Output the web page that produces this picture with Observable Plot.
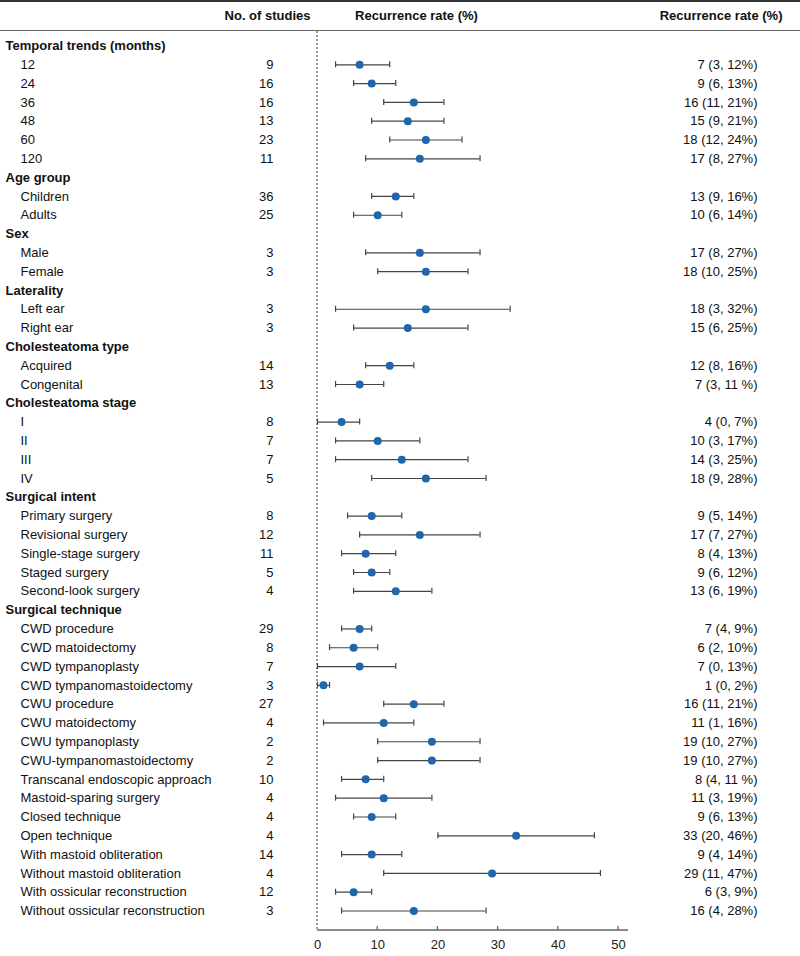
<!DOCTYPE html>
<html>
<head>
<meta charset="utf-8">
<script src="https://cdn.jsdelivr.net/npm/d3@7"></script>
<script src="https://cdn.jsdelivr.net/npm/@observablehq/plot@0.6"></script>
<style>
  html, body { margin: 0; padding: 0; background: #fff; }
  #chart svg { display: block; }
</style>
</head>
<body>
<div id="chart"></div>
<script>
// ---- Data ----
const rowLabels = [
  "Temporal trends (months)", "12", "24", "36", "48", "60", "120",
  "Age group", "Children", "Adults",
  "Sex", "Male", "Female",
  "Laterality", "Left ear", "Right ear",
  "Cholesteatoma type", "Acquired", "Congenital",
  "Cholesteatoma stage", "I", "II", "III", "IV",
  "Surgical intent", "Primary surgery", "Revisional surgery", "Single-stage surgery", "Staged surgery", "Second-look surgery",
  "Surgical technique", "CWD procedure", "CWD matoidectomy", "CWD tympanoplasty", "CWD tympanomastoidectomy",
  "CWU procedure", "CWU matoidectomy", "CWU tympanoplasty", "CWU-tympanomastoidectomy",
  "Transcanal endoscopic approach", "Mastoid-sparing surgery", "Closed technique", "Open technique",
  "With mastoid obliteration", "Without mastoid obliteration", "With ossicular reconstruction", "Without ossicular reconstruction"
];
const studies = [null, 9, 16, 16, 13, 23, 11, null, 36, 25, null, 3, 3, null, 3, 3, null, 14, 13,
  null, 8, 7, 7, 5, null, 8, 12, 11, 5, 4,
  null, 29, 8, 7, 3, 27, 4, 2, 2, 10, 4, 4, 4, 14, 4, 12, 3];
const estimate = [null, 7, 9, 16, 15, 18, 17, null, 13, 10, null, 17, 18, null, 18, 15, null, 12, 7,
  null, 4, 10, 14, 18, null, 9, 17, 8, 9, 13,
  null, 7, 6, 7, 1, 16, 11, 19, 19, 8, 11, 9, 33, 9, 29, 6, 16];
const lower = [null, 3, 6, 11, 9, 12, 8, null, 9, 6, null, 8, 10, null, 3, 6, null, 8, 3,
  null, 0, 3, 3, 9, null, 5, 7, 4, 6, 6,
  null, 4, 2, 0, 0, 11, 1, 10, 10, 4, 3, 6, 20, 4, 11, 3, 4];
const upper = [null, 12, 13, 21, 21, 24, 27, null, 16, 14, null, 27, 25, null, 32, 25, null, 16, 11,
  null, 7, 17, 25, 28, null, 14, 27, 13, 12, 19,
  null, 9, 10, 13, 2, 21, 16, 27, 27, 11, 19, 13, 46, 14, 47, 9, 28];
const ciLabels = [null, "7 (3, 12%)", "9 (6, 13%)", "16 (11, 21%)", "15 (9, 21%)", "18 (12, 24%)", "17 (8, 27%)",
  null, "13 (9, 16%)", "10 (6, 14%)",
  null, "17 (8, 27%)", "18 (10, 25%)",
  null, "18 (3, 32%)", "15 (6, 25%)",
  null, "12 (8, 16%)", "7 (3, 11 %)",
  null, "4 (0, 7%)", "10 (3, 17%)", "14 (3, 25%)", "18 (9, 28%)",
  null, "9 (5, 14%)", "17 (7, 27%)", "8 (4, 13%)", "9 (6, 12%)", "13 (6, 19%)",
  null, "7 (4, 9%)", "6 (2, 10%)", "7 (0, 13%)", "1 (0, 2%)", "16 (11, 21%)", "11 (1, 16%)", "19 (10, 27%)", "19 (10, 27%)",
  "8 (4, 11 %)", "11 (3, 19%)", "9 (6, 13%)", "33 (20, 46%)", "9 (4, 14%)", "29 (11, 47%)", "6 (3, 9%)", "16 (4, 28%)"];
const headerTexts = ["No. of studies", "Recurrence rate (%)", "Recurrence rate (%)"];
const xTicks = [0, 10, 20, 30, 40, 50];

// ---- Build table ----
const rows = rowLabels.map((label, i) => ({
  i, label, header: studies[i] == null,
  n: studies[i], est: estimate[i], lo: lower[i], hi: upper[i], ci: ciLabels[i]
}));
const groups = rows.filter(d => d.header);
const items = rows.filter(d => !d.header);

const W = 800, H = 956;
const FONT = "'Liberation Sans', Arial, Helvetica, sans-serif";

// decorations: header rules, dashed zero line, axis line and ticks
function decorations(index, scales, values, dims) {
  const g = d3.create("svg:g");
  g.append("line").attr("x1", 0).attr("x2", dims.width).attr("y1", 1).attr("y2", 1)
    .attr("stroke", "#333").attr("stroke-width", 2);
  g.append("line").attr("x1", 0).attr("x2", dims.width).attr("y1", 30.5).attr("y2", 30.5)
    .attr("stroke", "#666").attr("stroke-width", 1.2);
  const x0 = scales.x(0);
  const yb = dims.height - dims.marginBottom;
  g.append("line").attr("x1", x0).attr("x2", x0).attr("y1", 31).attr("y2", yb)
    .attr("stroke", "#333").attr("stroke-width", 1).attr("stroke-dasharray", "2,2");
  g.append("line").attr("x1", x0).attr("x2", scales.x(xTicks[xTicks.length - 1]) + 10).attr("y1", yb).attr("y2", yb)
    .attr("stroke", "#666").attr("stroke-width", 1.3);
  for (const t of xTicks.slice(1)) {
    g.append("line").attr("x1", scales.x(t)).attr("x2", scales.x(t)).attr("y1", yb - 4).attr("y2", yb)
      .attr("stroke", "#666").attr("stroke-width", 1.3);
  }
  return g.node();
}

const chart = Plot.plot({
  width: W,
  height: H,
  marginTop: 0,
  marginBottom: 26,
  marginLeft: 0,
  marginRight: 0,
  style: { fontFamily: FONT, fontSize: "13px", color: "#111", background: "#fff" },
  x: { domain: [0, 50], range: [317, 618] },
  y: { domain: [0, 46], range: [45.5, 910.5], axis: null },
  marks: [
    decorations,
    Plot.axisX({ anchor: "bottom", ticks: xTicks, tickSize: 0, tickPadding: 9, fontSize: 13, fill: "#222", label: null }),
    // header row
    Plot.text([headerTexts[0]], { frameAnchor: "top-left", dx: 310, dy: 15, textAnchor: "end", lineAnchor: "middle", fontWeight: "bold", fontSize: 13, fill: "#111" }),
    Plot.text([headerTexts[1]], { frameAnchor: "top-left", dx: 416, dy: 15, textAnchor: "middle", lineAnchor: "middle", fontWeight: "bold", fontSize: 13, fill: "#111" }),
    Plot.text([headerTexts[2]], { frameAnchor: "top-right", dx: -18, dy: 15, textAnchor: "end", lineAnchor: "middle", fontWeight: "bold", fontSize: 13, fill: "#111" }),
    // group headings
    Plot.text(groups, { y: "i", text: "label", frameAnchor: "left", dx: 5, textAnchor: "start", fontWeight: "bold", fontSize: 13, fill: "#111" }),
    // item labels
    Plot.text(items, { y: "i", text: "label", frameAnchor: "left", dx: 20, textAnchor: "start", fontSize: 13, fill: "#111" }),
    // number of studies
    Plot.text(items, { y: "i", text: d => String(d.n), frameAnchor: "left", dx: 273, textAnchor: "end", fontSize: 13, fill: "#111" }),
    // CI text
    Plot.text(items, { y: "i", text: "ci", frameAnchor: "right", dx: -43, textAnchor: "end", fontSize: 13, fill: "#111" }),
    // error bars
    Plot.ruleY(items, { y: "i", x1: "lo", x2: "hi", stroke: "#444", strokeWidth: 1.2 }),
    Plot.ruleX(items, { x: "lo", y1: d => d.i - 0.16, y2: d => d.i + 0.16, stroke: "#444", strokeWidth: 1.2 }),
    Plot.ruleX(items, { x: "hi", y1: d => d.i - 0.16, y2: d => d.i + 0.16, stroke: "#444", strokeWidth: 1.2 }),
    // point estimates
    Plot.dot(items, { x: "est", y: "i", r: 4, fill: "#2166ac", stroke: "none" })
  ]
});

document.getElementById("chart").appendChild(chart);
</script>
</body>
</html>
